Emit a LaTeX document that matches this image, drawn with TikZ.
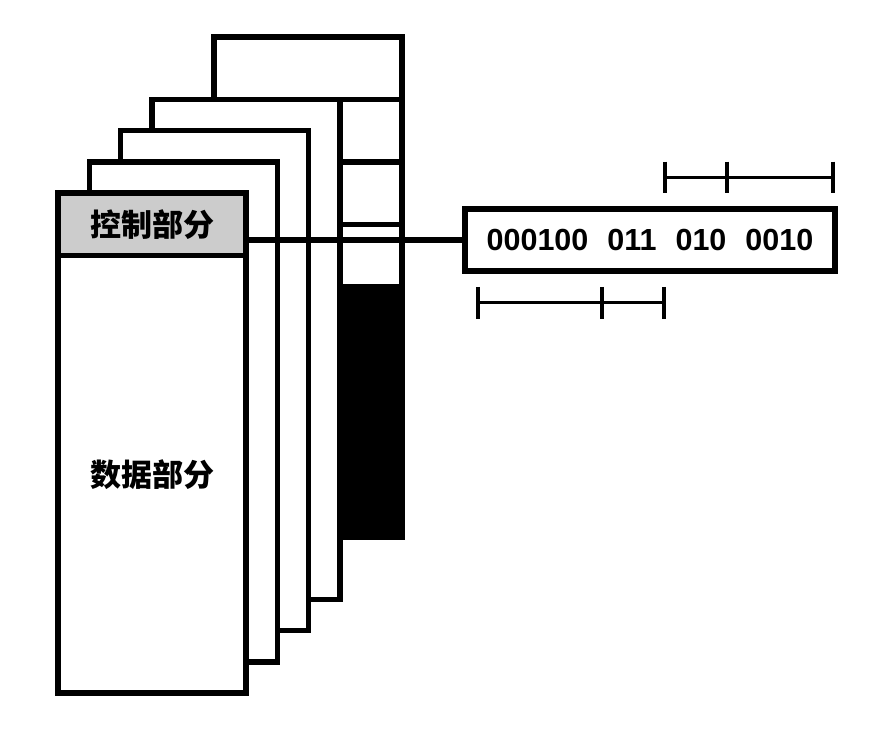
\documentclass[tikz,border=0pt]{standalone}
\usepackage{fontspec}
\setmainfont{Liberation Sans}
\newfontfamily\cjk{Noto Sans CJK SC}
\usetikzlibrary{positioning,calc}
\definecolor{ctrlgray}{HTML}{CCCCCC}

\begin{document}
\begin{tikzpicture}[
  x=1pt,y=-1pt,
  every node/.style={outer sep=0pt,inner sep=0pt},
  every path/.style={draw,line width=5.6pt},
  layer/.style={draw,fill=white,minimum width=188pt,minimum height=500pt,on grid},
  ctrlbox/.style={draw,fill=ctrlgray,minimum width=188pt,minimum height=62.5pt},
  cjklabel/.style={font=\cjk\bfseries\fontsize{31}{36}\selectfont},
  fieldbox/.style={draw,minimum width=370pt,minimum height=62pt,
    font=\bfseries\fontsize{30.5}{36}\selectfont},
  dimline/.style={line width=3.3pt},
  ]
  \useasboundingbox[draw=none] (0,0) rectangle (878,738);
  \node[layer] (layerE) at (308.25,287) {};
  \foreach \f in {0.125,0.25,0.375}
    \draw ($(layerE.north west)!\f!(layerE.south west)$) -- ($(layerE.north east)!\f!(layerE.south east)$);
  \filldraw (layerE.west) rectangle (layerE.south east);
  \node[layer, below left=62.4pt and 62.4pt of layerE] (layerD) {};
  \node[layer, below left=31.2pt and 31.2pt of layerD] (layerC) {};
  \node[layer, below left=31.2pt and 31.2pt of layerC] (layerB) {};
  \node[layer, below left=31.2pt and 31.2pt of layerB] (layerA) {};
  \node[ctrlbox, cjklabel, anchor=north] (ctrl) at (layerA.north) {控制部分};
  \node[cjklabel] (data) at ($(ctrl.south)!0.5!(layerA.south)$) {数据部分};
  \node[fieldbox] (fields) at (650,240) {000100\hspace{19pt}011\hspace{19pt}010\hspace{19pt}0010};
  \draw (ctrl.east |- fields.west) -- (fields.west);
  % length marks
  \coordinate (topA) at (665,177.5);
  \coordinate (topB) at (727,177.5);
  \coordinate (topC) at (833,177.5);
  \coordinate (botA) at (478,302.7);
  \coordinate (botB) at (602,302.7);
  \coordinate (botC) at (664,302.7);
  \draw[dimline] (topA) -- (topC);
  \draw[dimline] (botA) -- (botC);
  \foreach \c in {topA,topB,topC,botA,botB,botC}
    \draw[dimline] ([yshift=15.8pt]\c) -- ([yshift=-15.8pt]\c);
\end{tikzpicture}
\end{document}
